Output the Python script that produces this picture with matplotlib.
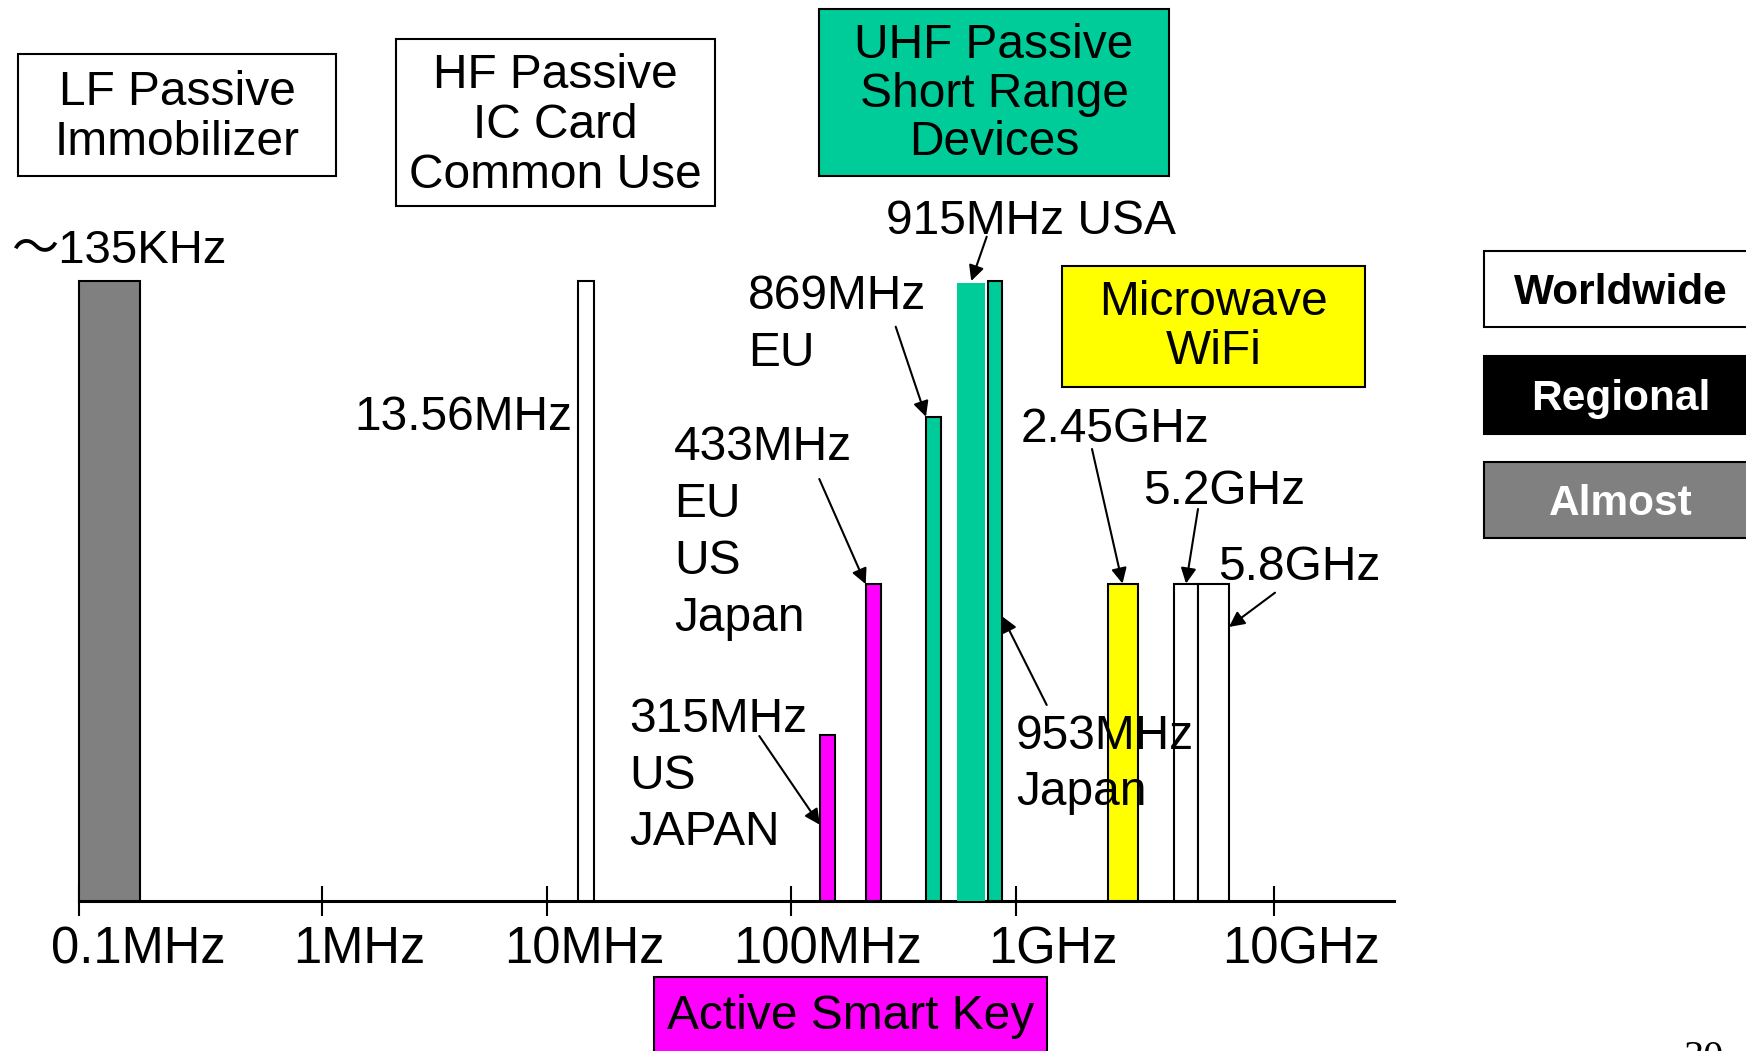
import matplotlib
matplotlib.use('Agg')
import matplotlib.pyplot as plt
import matplotlib.transforms as mtransforms
from matplotlib.patches import Rectangle
from matplotlib.ticker import NullLocator
import numpy as np

plt.rcParams['font.family'] = ['Liberation Sans', 'Noto Sans CJK JP']

# frequency bands as drawn on the slide (edges in MHz, bar level in % of full)
band_names = ['135KHz', '13.56MHz', '315MHz', '433MHz', '869MHz',
              '915MHz', '953MHz', '2.45GHz', '5.2GHz', '5.8GHz']
band_lo = [0.1, 13.34, 134.3, 214.8, 398, 546.9, 750.6, 2263, 4098, 5075]
band_hi = [0.179, 15.58, 156.9, 251.2, 464, 731.7, 869, 2958, 5075, 6693]
band_level = [100, 100, 26.8, 51.1, 78.1, 99.7, 100, 51.2, 51.2, 51.2]
band_color = ['#808080', 'white', '#FF00FF', '#FF00FF', '#00CC99',
              '#00CC99', '#00CC99', '#FFFF00', 'white', 'white']
band_outline = [True, True, True, True, True, False, True, True, True, True]

tick_freqs = [0.1, 1, 10, 100, 1000, 10000]
tick_labels = ['0.1MHz', '1MHz', '10MHz', '100MHz', '1GHz', '10GHz']

legend_names = ['Worldwide', 'Regional', 'Almost']
legend_fill = ['white', 'black', '#808080']
legend_text = ['black', 'white', 'white']

W, H = 1746, 1051
fig = plt.figure(figsize=(W / 100, H / 100), dpi=100)

# the decades on the slide are not evenly spaced, so map them piecewise
decades = np.arange(-2, 6)
decade_px = np.array([78.6 - 242.9, 78.6, 321.5, 547, 791, 1016, 1274, 1274 + 258])


def fwd(f):
    f = np.asarray(f, dtype=float)
    return np.interp(np.log10(np.clip(f, 1e-9, None)), decades, decade_px)


def inv(p):
    return 10 ** np.interp(p, decade_px, decades)


x_left, x_right, y_base, y_top = 78.6, 1394, 901, 281
ax = fig.add_axes([x_left / W, 1 - y_base / H, (x_right - x_left) / W, (y_base - y_top) / H])
ax.set_xscale('function', functions=(fwd, inv))
ax.set_xlim(0.1, inv(x_right))
ax.set_ylim(0, 100)

for lo, hi, lv, c, out in zip(band_lo, band_hi, band_level, band_color, band_outline):
    ax.bar(lo, lv, width=hi - lo, align='edge', color=c,
           edgecolor='black' if out else 'none', linewidth=1.5 if out else 0,
           zorder=3, clip_on=False)

for s in ['left', 'top', 'right']:
    ax.spines[s].set_visible(False)
ax.spines['bottom'].set_linewidth(2.2)
ax.set_xticks(tick_freqs)
ax.xaxis.set_minor_locator(NullLocator())
ax.tick_params(axis='x', direction='inout', length=22, width=1.5, labelbottom=False)
ax.set_yticks([])
ax.patch.set_alpha(0)

# tick labels sit a bit right of their ticks on the slide
tick_dx = [-28, -28, -43, -58, -28, -52]
for f, lbl, dx in zip(tick_freqs, tick_labels, tick_dx):
    tr = mtransforms.offset_copy(ax.transData, fig=fig, x=dx, y=-62, units='dots')
    ax.text(f, 0, lbl, transform=tr, ha='left', va='baseline', fontsize=36.5)

# overlay in pixel coordinates for boxes, labels and arrows
ov = fig.add_axes([0, 0, 1, 1], zorder=5)
ov.set_xlim(0, W)
ov.set_ylim(H, 0)
ov.axis('off')

FS = 34.5


def base(y, size=FS):
    # cap-centre -> baseline
    return y + 0.358 * size * 100 / 72


def box(x0, y0, x1, y1, lines, ys, fc='white', tc='black', weight='normal', size=FS, cx=None):
    ov.add_patch(Rectangle((x0, y0), x1 - x0, y1 - y0, facecolor=fc,
                           edgecolor='black', lw=1.5))
    cx = (x0 + x1) / 2 if cx is None else cx
    for t, y in zip(lines, ys):
        ov.text(cx, base(y, size), t, ha='center', va='baseline', fontsize=size,
                color=tc, fontweight=weight)


def label(x, lines, ys, ha='left', size=FS):
    for t, y in zip(lines, ys):
        ov.text(x, base(y, size), t, ha=ha, va='baseline', fontsize=size)


box(17.9, 54, 336.4, 176, ['LF Passive', 'Immobilizer'], [88, 137.5])
box(396, 39.3, 714.5, 206, ['HF Passive', 'IC Card', 'Common Use'], [71, 121, 170.5])
box(819.3, 9, 1169, 175.7, ['UHF Passive', 'Short Range', 'Devices'], [41, 89.5, 138],
    fc='#00CC99')
box(1061.7, 265.7, 1365, 387.3, ['Microwave', 'WiFi'], [298.3, 346.7], fc='#FFFF00')
box(654, 976.7, 1047.3, 1070, ['Active Smart Key'], [1011.7], fc='#FF00FF')

for name, fc, tc, (y0, y1) in zip(legend_names, legend_fill, legend_text,
                                  [(251, 327), (356, 434), (462, 538)]):
    box(1484, y0, 1760, y1, [name], [(y0 + y1) / 2], fc=fc, tc=tc,
        weight='bold', size=30.5, cx=1621)

ov.text(11, 263, '～135KHz', ha='left', va='baseline', fontsize=34)
label(572, ['13.56MHz'], [413], ha='right')
label(886, ['915MHz USA'], [216.7])
label(748, ['869MHz', 'EU'], [292, 349])
label(674, ['433MHz', 'EU', 'US', 'Japan'], [443, 500, 556.7, 614])
label(629.3, ['315MHz', 'US', 'JAPAN'], [715, 771.7, 828])
label(1016, ['953MHz', 'Japan'], [731.7, 788])
label(1021, ['2.45GHz'], [425])
label(1143.3, ['5.2GHz'], [486.7])
label(1218.3, ['5.8GHz'], [563.3])


def arrow(tail, head):
    ov.annotate('', xy=head, xycoords=ax.transData, xytext=tail, textcoords='data',
                arrowprops=dict(arrowstyle='-|>', color='black', lw=1.5,
                                mutation_scale=23, shrinkA=0, shrinkB=0))


def mid(i):
    return np.sqrt(band_lo[i] * band_hi[i])


arrow((986.7, 236.7), (mid(5), 100))                # 915MHz
arrow((895.7, 326.7), (band_lo[4], band_level[4]))  # 869MHz
arrow((819.3, 479), (band_lo[3], band_level[3]))    # 433MHz
arrow((759.3, 736), (band_lo[2], 12.3))             # 315MHz
arrow((1046.7, 705), (band_hi[6], 45.9))            # 953MHz
arrow((1092, 449), (mid(7), band_level[7]))         # 2.45GHz
arrow((1198, 509), (mid(8), band_level[8]))         # 5.2GHz
arrow((1275, 592.7), (band_hi[9], 44.2))            # 5.8GHz

# page number, cut off at the bottom of the slide as in the original
ov.text(1704, 1068, '30', ha='center', va='baseline', fontsize=29,
        family='Liberation Serif')

fig.savefig('out.png', dpi=100)
